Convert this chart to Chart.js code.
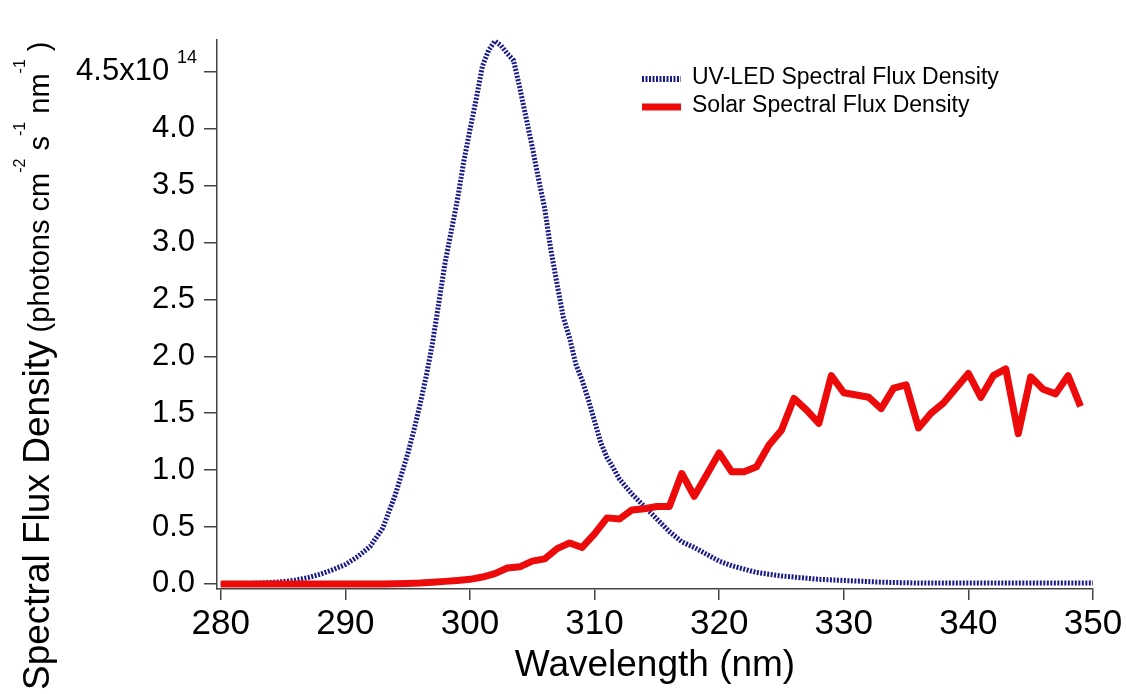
<!DOCTYPE html>
<html>
<head>
<meta charset="utf-8">
<title>Spectral Flux Density</title>
<script src="https://cdn.jsdelivr.net/npm/chart.js@4.4.1/dist/chart.umd.min.js"></script>
<style>
  html, body { margin: 0; padding: 0; background: #fff; }
  #chart { display: block; }
</style>
</head>
<body>
<canvas id="chart" width="1126" height="694"></canvas>
<script>
// flux values are in units of 10^14 photons cm-2 s-1 nm-1
const ledWavelengths = [
    280, 281, 282, 283, 284, 285, 286, 287, 288, 289,
    290, 291, 292, 293, 294, 295, 295.5, 296, 296.5, 297,
    297.5, 298, 298.5, 299, 299.5, 300, 300.5, 301, 301.5, 302,
    302.5, 303, 303.5, 304, 304.5, 305, 305.5, 306, 306.5, 307,
    307.5, 308, 308.5, 309, 309.5, 310, 310.5, 311, 311.5, 312,
    313, 314, 315, 316, 317, 318, 319, 320, 321, 322,
    323, 324, 325, 326, 327, 328, 329, 330, 331, 332,
    333, 334, 335, 336, 337, 338, 339, 340, 341, 342,
    343, 344, 345, 346, 347, 348, 349, 350
];
const ledFlux = [
    0.0, 0.0, 0.003, 0.006, 0.012, 0.02, 0.033, 0.055, 0.085, 0.125,
    0.17, 0.24, 0.33, 0.49, 0.78, 1.14, 1.35, 1.58, 1.83, 2.12,
    2.47, 2.82, 3.10, 3.38, 3.71, 3.99, 4.26, 4.55, 4.69, 4.77,
    4.73, 4.66, 4.60, 4.36, 4.10, 3.84, 3.56, 3.30, 2.93, 2.63,
    2.34, 2.16, 1.93, 1.79, 1.62, 1.43, 1.24, 1.11, 1.02, 0.92,
    0.79, 0.68, 0.57, 0.46, 0.37, 0.32, 0.26, 0.20, 0.16, 0.13,
    0.10, 0.085, 0.07, 0.06, 0.05, 0.04, 0.035, 0.03, 0.025, 0.02,
    0.015, 0.012, 0.01, 0.007, 0.007, 0.007, 0.007, 0.007, 0.007, 0.007,
    0.007, 0.007, 0.007, 0.007, 0.007, 0.007, 0.007, 0.007
];

const solarWavelengths = [
    280, 281, 282, 283, 284, 285, 286, 287, 288, 289,
    290, 291, 292, 293, 294, 295, 296, 297, 298, 299,
    300, 301, 302, 303, 304, 305, 306, 307, 308, 309,
    310, 311, 312, 313, 314, 315, 316, 317, 318, 319,
    320, 321, 322, 323, 324, 325, 326, 327, 328, 329,
    330, 331, 332, 333, 334, 335, 336, 337, 338, 339,
    340, 341, 342, 343, 344, 345, 346, 347, 348, 349
];
const solarFlux = [
    0, 0, 0, 0, 0, 0, 0, 0, 0, 0,
    0, 0, 0, 0, 0.002, 0.004, 0.008, 0.015, 0.022, 0.03,
    0.04, 0.06, 0.09, 0.14, 0.15, 0.20, 0.22, 0.31, 0.36, 0.32,
    0.44, 0.58, 0.57, 0.65, 0.66, 0.68, 0.68, 0.97, 0.77, 0.96,
    1.15, 0.985, 0.985, 1.03, 1.22, 1.35, 1.63, 1.53, 1.41, 1.83,
    1.68, 1.66, 1.64, 1.54, 1.72, 1.75, 1.37, 1.50, 1.59, 1.72,
    1.85, 1.64, 1.83, 1.89, 1.32, 1.82, 1.71, 1.67, 1.83, 1.56
];

const xTicks = [280, 290, 300, 310, 320, 330, 340, 350];
const yTicks = [0, 0.5, 1.0, 1.5, 2.0, 2.5, 3.0, 3.5, 4.0, 4.5];
const seriesLabels = ['UV-LED Spectral Flux Density', 'Solar Spectral Flux Density'];

const FONT = "'Liberation Sans', Arial, sans-serif";
const AXIS_COLOR = '#444';
const LED_COLOR = '#1a1a8c';
const SOLAR_COLOR = '#ec0a0a';

// y title with superscripts, drawn rotated like Igor's axis label
const yTitleParts = [
    { text: 'Spectral Flux Density', size: 37, rise: 0 },
    { text: ' (photons cm', size: 29, rise: 0 },
    { text: '-2', size: 16, rise: 24 },
    { text: ' s', size: 29, rise: 0 },
    { text: '-1', size: 16, rise: 24 },
    { text: ' nm', size: 29, rise: 0 },
    { text: '-1', size: 16, rise: 24 },
    { text: ' )', size: 29, rise: 0 }
];

function toPoints(xs, ys) {
    return xs.map((x, i) => ({ x: x, y: ys[i] }));
}

const igorTextPlugin = {
    id: 'igorText',
    afterDraw(chart) {
        const ctx = chart.ctx;
        const yScale = chart.scales.y;

        ctx.save();
        ctx.fillStyle = '#000';

        // exponent on the top tick label
        const topY = yScale.getPixelForValue(yTicks[yTicks.length - 1]);
        ctx.font = '18px ' + FONT;
        ctx.textAlign = 'right';
        ctx.textBaseline = 'alphabetic';
        ctx.fillText('14', yScale.right - 20, topY - 9);

        // rotated y-axis title
        ctx.translate(49, 690);
        ctx.rotate(-Math.PI / 2);
        ctx.textAlign = 'left';
        let cursor = 0;
        yTitleParts.forEach(part => {
            ctx.font = part.size + 'px ' + FONT;
            ctx.fillText(part.text, cursor, -part.rise);
            cursor += ctx.measureText(part.text).width;
        });
        ctx.restore();

        // legend, top right inside the plot
        ctx.save();
        chart.data.datasets.forEach((ds, i) => {
            const y = 79 + i * 28;
            ctx.beginPath();
            ctx.strokeStyle = ds.borderColor;
            ctx.lineWidth = i === 0 ? 6 : 7;
            ctx.setLineDash(ds.borderDash || []);
            ctx.moveTo(642, y);
            ctx.lineTo(681, y);
            ctx.stroke();
            ctx.setLineDash([]);
            ctx.fillStyle = '#000';
            ctx.font = '23px ' + FONT;
            ctx.textAlign = 'left';
            ctx.textBaseline = 'middle';
            ctx.fillText(ds.label, 692, y - 1);
        });
        ctx.restore();
    }
};

const ctx = document.getElementById('chart').getContext('2d');
const chart = new Chart(ctx, {
    type: 'line',
    data: {
        datasets: [
            {
                label: seriesLabels[0],
                data: toPoints(ledWavelengths, ledFlux),
                borderColor: LED_COLOR,
                borderWidth: 5,
                borderDash: [2, 1.5],
                pointRadius: 0,
                tension: 0,
                fill: false,
                clip: false,
                order: 1
            },
            {
                label: seriesLabels[1],
                data: toPoints(solarWavelengths, solarFlux),
                borderColor: SOLAR_COLOR,
                borderWidth: 7,
                borderJoinStyle: 'round',
                pointRadius: 0,
                tension: 0,
                fill: false,
                clip: false,
                order: 0
            }
        ]
    },
    options: {
        responsive: false,
        animation: false,
        layout: {
            padding: { left: 0, right: 33, top: 40, bottom: 0 }
        },
        plugins: {
            legend: { display: false },
            tooltip: { enabled: false }
        },
        scales: {
            x: {
                type: 'linear',
                min: 279.7,
                max: 350,
                afterBuildTicks: function(axis) {
                    axis.ticks = xTicks.map(v => ({ value: v }));
                },
                afterFit: function(scale) {
                    scale.height = 105;
                },
                border: { display: true, color: AXIS_COLOR, width: 1.5 },
                grid: {
                    display: true,
                    drawOnChartArea: false,
                    drawTicks: true,
                    tickLength: 11,
                    color: AXIS_COLOR,
                    lineWidth: 1.5
                },
                ticks: {
                    color: '#000',
                    font: { family: FONT, size: 35 },
                    padding: 3,
                    maxRotation: 0,
                    autoSkip: false
                },
                title: {
                    display: true,
                    text: 'Wavelength (nm)',
                    color: '#000',
                    font: { family: FONT, size: 37 },
                    padding: { top: 0, bottom: 6 }
                }
            },
            y: {
                type: 'linear',
                min: -0.045,
                max: 4.78,
                afterBuildTicks: function(axis) {
                    axis.ticks = yTicks.map(v => ({ value: v }));
                },
                afterFit: function(scale) {
                    scale.width = 217;
                },
                border: { display: true, color: AXIS_COLOR, width: 1.5 },
                grid: {
                    display: true,
                    drawOnChartArea: false,
                    drawTicks: true,
                    tickLength: 13,
                    color: AXIS_COLOR,
                    lineWidth: 1.5
                },
                ticks: {
                    color: '#000',
                    font: { family: FONT, size: 31 },
                    padding: 9,
                    callback: function(value) {
                        // room is left after the top label for the exponent
                        if (value === 4.5) return '4.5x10\u00A0\u00A0\u00A0';
                        return value.toFixed(1);
                    }
                },
                title: { display: false }
            }
        }
    },
    plugins: [igorTextPlugin]
});
</script>
</body>
</html>
